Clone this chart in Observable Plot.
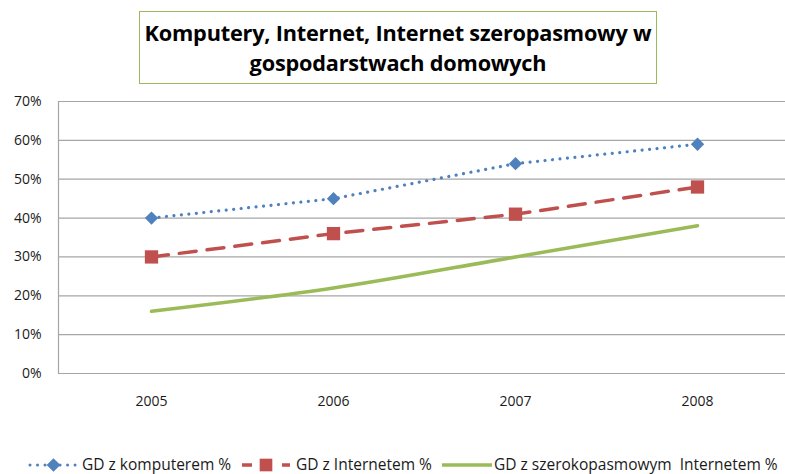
<!DOCTYPE html>
<html>
<head>
<meta charset="utf-8">
<script src="https://cdn.jsdelivr.net/npm/d3@7"></script>
<script src="https://cdn.jsdelivr.net/npm/@observablehq/plot@0.6"></script>
<style>
  html, body { margin: 0; padding: 0; background: #fff; }
  #wrap { position: relative; width: 785px; height: 474px; overflow: hidden; font-family: "Open Sans", Lato, sans-serif; }
  #chart { position: absolute; left: 0; top: 0; }
  #title { position: absolute; left: 139px; top: 11px; width: 516px; height: 71px; border: 1px solid #9bbb59;
    background: #fff; font-weight: bold; font-size: 21.7px; line-height: 30px; text-align: center; color: #000;
    display: flex; align-items: center; justify-content: center; box-sizing: content-box; letter-spacing: -0.2px; white-space: nowrap; }
  #legend { position: absolute; left: 0; top: 446px; }
</style>
</head>
<body>
<div id="wrap">
  <div id="chart"></div>
  <div id="title"><div>Komputery, Internet, Internet szeropasmowy w<br>gospodarstwach domowych</div></div>
  <svg id="legend" width="785" height="28"></svg>
</div>
<script>
const years = ["2005", "2006", "2007", "2008"];
const komputer = [40, 45, 54, 59];
const internet = [30, 36, 41, 48];
const szerokopasmowy = [16, 22, 30, 38];
const yTicks = [0, 10, 20, 30, 40, 50, 60, 70];
const seriesNames = ["GD z komputerem %", "GD z Internetem %", "GD z szerokopasmowym  Internetem %"];

const toRows = (vals, name) => years.map((y, i) => ({year: y, value: vals[i], series: name}));
const rowsK = toRows(komputer, seriesNames[0]);
const rowsI = toRows(internet, seriesNames[1]);
const rowsS = toRows(szerokopasmowy, seriesNames[2]);

const blue = "#4f81bd", red = "#c0504d", green = "#9bbb59", grid = "#a6a6a6";
const font = "'Open Sans', Lato, sans-serif";

const chart = Plot.plot({
  width: 785,
  height: 474,
  marginTop: 101,
  marginBottom: 101,
  marginLeft: 58,
  marginRight: 0,
  style: {fontFamily: font, fontSize: "14px", color: "#1a1a1a", background: "transparent"},
  x: {type: "point", domain: years, padding: 0.5, range: [58, 789]},
  y: {domain: [0, 70]},
  marks: [
    Plot.gridY(yTicks, {stroke: grid, strokeOpacity: 1, strokeWidth: 1.2}),
    Plot.frame({anchor: "left", stroke: grid, strokeWidth: 1.2}),
    Plot.axisY(yTicks, {tickSize: 0, tickPadding: 17, tickFormat: d => d + "%", fontSize: 14, label: null}),
    Plot.axisX({tickSize: 0, tickPadding: 23, fontSize: 14, label: null}),
    Plot.line(rowsS, {x: "year", y: "value", stroke: green, strokeWidth: 3.5, curve: "catmull-rom"}),
    Plot.line(rowsI, {x: "year", y: "value", stroke: red, strokeWidth: 3.5, strokeDasharray: "17 11"}),
    Plot.line(rowsK, {x: "year", y: "value", stroke: blue, strokeWidth: 3.2, strokeDasharray: "0.01 7.5", strokeLinecap: "round"}),
    Plot.dot(rowsI, {x: "year", y: "value", symbol: "square", r: 7.5, fill: red, stroke: "none"}),
    Plot.dot(rowsK, {x: "year", y: "value", symbol: "diamond2", r: 6, fill: blue, stroke: "none"})
  ]
});
document.getElementById("chart").appendChild(chart);

// Legend
const legendItems = [
  {name: seriesNames[0], color: blue, dash: "0.01 7.5", cap: "round", width: 3, symbol: d3.symbolDiamond2, size: 120, x0: 30, x1: 77, tx: 82},
  {name: seriesNames[1], color: red, dash: "10 10", cap: "butt", width: 3.5, symbol: d3.symbolSquare, size: 160, x0: 242, x1: 290, tx: 296},
  {name: seriesNames[2], color: green, dash: null, cap: "butt", width: 3.5, symbol: null, size: 0, x0: 442, x1: 492, tx: 494}
];
const lg = d3.select("#legend");
const cy = 19;
for (const it of legendItems) {
  const g = lg.append("g");
  g.append("line").attr("x1", it.x0).attr("x2", it.x1).attr("y1", cy).attr("y2", cy)
    .attr("stroke", it.color).attr("stroke-width", it.width)
    .attr("stroke-dasharray", it.dash).attr("stroke-linecap", it.cap);
  if (it.symbol) {
    g.append("path").attr("d", d3.symbol(it.symbol, it.size)())
      .attr("transform", `translate(${(it.x0 + it.x1) / 2},${cy})`).attr("fill", it.color);
  }
  g.append("text").attr("x", it.tx).attr("y", cy).attr("dy", "0.35em")
    .attr("font-family", font).attr("font-size", 15.5).attr("fill", "#1a1a1a")
    .attr("xml:space", "preserve").text(it.name);
}
</script>
</body>
</html>
